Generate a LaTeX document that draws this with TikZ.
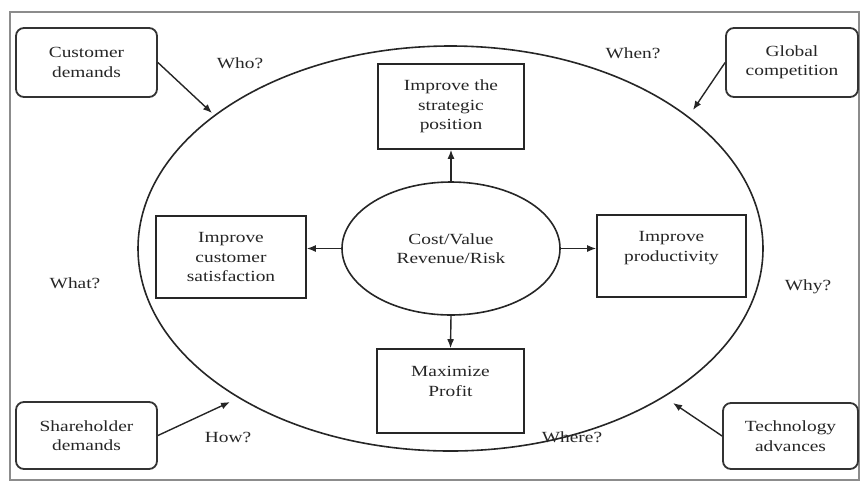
\documentclass[tikz,border=0pt]{standalone}
\usepackage{fontspec}
\setmainfont{Liberation Serif}[FakeStretch=1.25]
\usetikzlibrary{shapes.geometric,arrows.meta}

\begin{document}
\begin{tikzpicture}[x=1pt,y=-1pt,
  every node/.style={font=\fontsize{15.5}{19.5}\selectfont, text=black!85, align=center},
  driver/.style={draw=black!80, line width=1.8pt, rounded corners=8pt, inner sep=0pt, fill=white},
  goal/.style={draw=black!85, line width=1.6pt, inner sep=0pt, fill=white},
  ring/.style={draw=black!85, ellipse, line width=1.6pt, inner sep=0pt},
  link/.style={-{Latex[length=9pt,width=7pt]}, line width=1.4pt, draw=black!85},
  ask/.style={inner sep=0pt}]

\useasboundingbox (0,0) rectangle (861,483);
% outer frame
\draw[black!45, line width=2.2pt] (10,12) rectangle (859,480);

% large ellipse and central ellipse
\node[ring, minimum width=625pt, minimum height=405pt] (outer) at (450.5,248.5) {};
\node[ring, minimum width=218pt, minimum height=133pt, fill=white] (core) at (451,248.5) {Cost/Value\\Revenue/Risk};

% goals inside the ellipse
\node[goal, minimum width=146pt, minimum height=85pt] (strat) at (451,106.5) {Improve the\\strategic\\position};
\node[goal, minimum width=150pt, minimum height=82pt] (satis) at (231,257) {Improve\\customer\\satisfaction};
\node[goal, minimum width=149pt, minimum height=82pt] (prod) at (671.5,256) {Improve\\productivity\\\mbox{}};
\node[goal, minimum width=147pt, minimum height=84pt] (profit) at (450.5,391) {Maximize\\Profit\\\mbox{}};

\draw[link] (core.north) -- (strat.south);
\draw[link] (core.south) -- (profit.north);
\draw[link] (core.west) -- (core.west -| satis.east);
\draw[link] (core.east) -- (core.east -| prod.west);

% external drivers
\node[driver, minimum width=141pt, minimum height=69pt] (cust) at (86.5,62.5) {Customer\\demands};
\node[driver, minimum width=132pt, minimum height=69pt] (glob) at (792,62.5) {Global\\competition};
\node[driver, minimum width=141pt, minimum height=67pt] (share) at (86.5,435.5) {Shareholder\\demands};
\node[driver, minimum width=135pt, minimum height=66pt] (tech) at (790.5,436) {Technology\\advances};

\coordinate (tipA) at (212,113);
\coordinate (tipB) at (693,110);
\coordinate (tipC) at (230,402);
\coordinate (tipD) at (673,403);

\draw[link] (cust.east) -- (tipA);
\draw[link] (glob.west) -- (tipB);
\draw[link] (share.east) -- (tipC);
\draw[link] (tech.west) -- (tipD);

% questions
\node[ask] (who) at (240,63) {Who?};
\node[ask] (when) at (633,53) {When?};
\node[ask] (what) at (75,283) {What?};
\node[ask] (why) at (808,287) {Why?};
\node[ask] (how) at (228,437) {How?};
\node[ask] (where) at (572,437) {Where?};
\end{tikzpicture}
\end{document}
